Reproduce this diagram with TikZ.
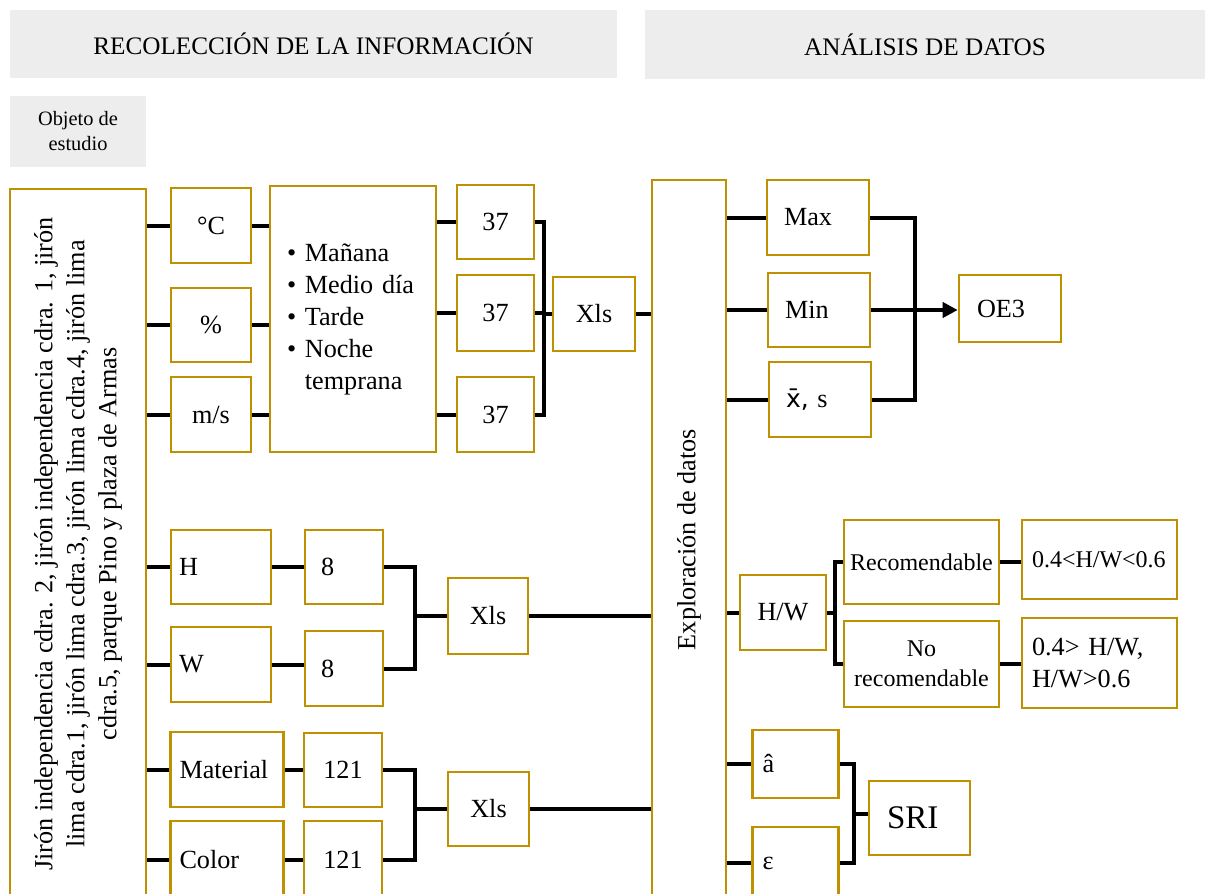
\documentclass[tikz,border=0pt]{standalone}
\usepackage{fontspec}
\usepackage{graphicx}
\setmainfont{Liberation Serif}
\newfontfamily\dejavu{DejaVu Sans}
\usetikzlibrary{arrows.meta}
\definecolor{gold}{HTML}{BF9000}
\definecolor{hgray}{HTML}{EDEDED}
\newcommand{\mainsz}{\fontsize{13.1}{16}\selectfont}
\newcommand{\smallsz}{\fontsize{12}{15}\selectfont}
\newcommand{\hdrsz}{\fontsize{12.6}{15}\selectfont}
\newcommand{\objsz}{\fontsize{10.2}{12.5}\selectfont}

\begin{document}
\begin{tikzpicture}[x=0.5pt,y=-0.5pt,
  box/.style={draw=gold,line width=1.3pt,fill=white,inner sep=0pt,font=\mainsz,align=center},
  hdr/.style={fill=hgray,inner sep=0pt,align=center},
  conn/.style={line width=2pt,black}]
\useasboundingbox (0,0) rectangle (1205,894);
\clip (0,0) rectangle (1205,894);

\node [hdr,font=\hdrsz,minimum width=303.5pt,minimum height=34pt] (recol) at (313.5,44) {RECOLECCIÓN DE LA INFORMACIÓN};
\node [hdr,font=\hdrsz,minimum width=280pt,minimum height=34.5pt] (anal) at (925,44.5) {ANÁLISIS DE DATOS};
\node [hdr,font=\objsz,minimum width=68pt,minimum height=35.5pt] (objeto) at (78,131.5) {Objeto de\\estudio};

\node [box,minimum width=68pt,minimum height=355pt] (sitio) at (78,544)
  {\rotatebox{90}{\begin{tabular}{@{}c@{}}Jirón independencia cdra. 2, jirón independencia cdra. 1, jirón\\
   lima cdra.1, jirón lima cdra.3, jirón lima cdra.4, jirón lima\\
   cdra.5, parque Pino y plaza de Armas\end{tabular}}};

\node [box,minimum width=40pt,minimum height=37.5pt] (grad) at (211,225.5) {°C};
\node [box,minimum width=40pt,minimum height=37pt] (hum) at (211,325) {\%};
\node [box,minimum width=40pt,minimum height=37.5pt] (vel) at (211,414.5) {m/s};
\node [box,minimum height=133pt,align=left,inner xsep=8.5pt,text width=66pt] (franjas) at (353,319)
  {\textbullet\ Mañana\\ \textbullet\ Medio día\\ \textbullet\ Tarde\\ \textbullet\ Noche\\ \phantom{\textbullet\ }temprana};
\node [box,minimum width=38.5pt,minimum height=37pt] (n1) at (495.5,222) {37};
\node [box,minimum width=38.5pt,minimum height=38pt] (n2) at (495.5,313) {37};
\node [box,minimum width=38.5pt,minimum height=37.5pt] (n3) at (495.5,414.5) {37};
\node [box,minimum width=41pt,minimum height=37pt] (xls1) at (594,314) {Xls};

\node [box,minimum height=37pt,align=left,inner xsep=4pt,text width=42pt] (alto) at (221,567) {H};
\node [box,minimum height=37pt,align=left,inner xsep=8pt,text width=23pt] (nH) at (344,567) {8};
\node [box,minimum height=37.5pt,align=left,inner xsep=4pt,text width=42pt] (ancho) at (221,664.5) {W};
\node [box,minimum height=37.5pt,align=left,inner xsep=8pt,text width=23pt] (nW) at (344,668.5) {8};
\node [box,minimum width=40pt,minimum height=38pt] (xls2) at (488,616) {Xls};

\node [box,minimum height=37.5pt,align=left,inner xsep=4.5pt,text width=47.5pt] (mat) at (227,769.5) {Material};
\node [box,minimum width=39pt,minimum height=37pt] (nM) at (343,770) {121};
\node [box,minimum height=39pt,align=left,inner xsep=4.5pt,text width=47.5pt] (col) at (227,860) {Color};
\node [box,minimum width=39pt,minimum height=39pt] (nC) at (343,860) {121};
\node [box,minimum width=40.5pt,minimum height=37pt] (xls3) at (488.5,809) {Xls};

\node [box,minimum width=37pt,minimum height=359.5pt] (explora) at (689,539.5) {\rotatebox{90}{Exploración de datos}};

\node [box,minimum height=37.5pt,align=left,inner xsep=8.5pt,text width=34pt] (max) at (818,217.5) {Max};
\node [box,minimum height=37pt,align=left,inner xsep=8.5pt,text width=34pt] (min) at (819,310) {Min};
\node [box,minimum height=37.5pt,align=left,inner xsep=8.5pt,text width=34pt] (xs) at (820,399.5) {{\fontsize{12.5}{14}\dejavu x̄,} s};
\node [box,minimum height=33.5pt,align=left,inner xsep=9pt,text width=33pt] (oe3) at (1010,308.5) {OE3};

\node [box,minimum width=43pt,minimum height=37.5pt] (hw) at (783,612.5) {H/W};
\node [box,font=\smallsz,minimum width=77.5pt,minimum height=42pt] (rec) at (921.5,562) {Recomendable};
\node [box,font=\smallsz,minimum width=77.5pt,minimum height=43pt] (norec) at (921.5,664) {No\\recomendable};
\node [box,font=\smallsz,minimum height=39.5pt,align=left,inner xsep=5pt,text width=67.5pt] (rngA) at (1099.5,559.5) {0.4<H/W<0.6};
\node [box,minimum height=45pt,align=left,inner xsep=5pt,text width=67.5pt] (rngB) at (1099.5,663) {0.4> H/W,\\H/W>0.6};

\node [box,minimum height=34pt,align=left,inner xsep=5pt,text width=33pt] (ahat) at (795.5,764) {â};
\node [box,minimum height=36pt,align=left,inner xsep=5pt,text width=33pt] (eps) at (795.5,863) {ε};
\node [box,font=\fontsize{16.5}{19}\selectfont,minimum height=37pt,align=left,inner xsep=9pt,text width=32.5pt] (sri) at (919.5,818) {SRI};

\coordinate (b1) at (544,314);
\coordinate (b2) at (415,616);
\coordinate (b3) at (415,809);
\coordinate (b4) at (915,310);
\coordinate (b5) at (835,612.5);
\coordinate (b6) at (854,814);

\foreach \v in {grad,hum,vel} {
  \draw [conn] (sitio.east |- \v.west) -- (\v.west);
  \draw [conn] (\v.east) -- (\v.east -| franjas.west);
}
\foreach \v in {n1,n2,n3}
  \draw [conn] (franjas.east |- \v.west) -- (\v.west);
\draw [conn] (n1.east) -| (b1) |- (n3.east);
\draw [conn] (n2.east) -- (n2.east -| b1);
\draw [conn] (b1) -- (b1 -| xls1.west);
\draw [conn] (xls1.east) -- (xls1.east -| explora.west);

\draw [conn] (sitio.east |- alto.west) -- (alto.west);
\draw [conn] (sitio.east |- ancho.west) -- (ancho.west);
\draw [conn] (alto.east) -- (alto.east -| nH.west);
\draw [conn] (ancho.east) -- (ancho.east -| nW.west);
\draw [conn] (nH.east) -| (b2) |- (nW.east);
\draw [conn] (b2) -- (b2 -| xls2.west);
\draw [conn] (xls2.east) -- (xls2.east -| explora.west);

\draw [conn] (sitio.east |- mat.west) -- (mat.west);
\draw [conn] (sitio.east |- col.west) -- (col.west);
\draw [conn] (mat.east) -- (mat.east -| nM.west);
\draw [conn] (col.east) -- (col.east -| nC.west);
\draw [conn] (nM.east) -| (b3) |- (nC.east);
\draw [conn] (b3) -- (b3 -| xls3.west);
\draw [conn] (xls3.east) -- (xls3.east -| explora.west);

\foreach \v in {max,min,xs,hw,ahat,eps}
  \draw [conn] (explora.east |- \v.west) -- (\v.west);
\draw [conn] (max.east) -| (b4) |- (xs.east);
\draw [conn,-{Triangle[length=7.5pt,width=7.5pt]}] (min.east) -- (min.east -| oe3.west);

\draw [conn] (hw.east) -- (b5);
\draw [conn] (rec.west) -| (b5) |- (norec.west);
\draw [conn] (rec.east) -- (rec.east -| rngA.west);
\draw [conn] (norec.east) -- (norec.east -| rngB.west);

\draw [conn] (ahat.east) -| (b6) |- (eps.east);
\draw [conn] (b6) -- (b6 -| sri.west);
\end{tikzpicture}
\end{document}
